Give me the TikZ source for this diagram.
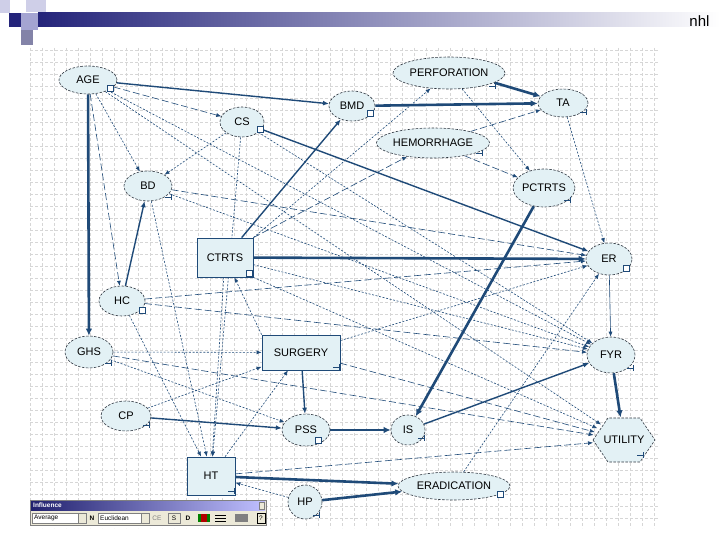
\documentclass[tikz,border=0pt]{standalone}
\usepackage{fontspec}
\setmainfont{Liberation Sans}
\usetikzlibrary{arrows.meta,shapes.geometric,backgrounds}

\definecolor{arcblue}{HTML}{1F4A78}
\definecolor{nodefill}{HTML}{E3F1F5}
\definecolor{nodeline}{HTML}{2E3640}
\definecolor{gridgray}{HTML}{D6D6D6}
\definecolor{headnavy}{HTML}{24247A}
\definecolor{sqlight}{HTML}{CFCFE8}
\definecolor{sqmid}{HTML}{A4A4D2}
\definecolor{barface}{HTML}{ECE9D8}

\tikzset{
  chance/.style={ellipse,draw=nodeline,line width=0.6pt,dash pattern=on 2.5pt off 1.5pt,
    fill=nodefill,inner sep=0pt,font=\fontsize{11}{13}\selectfont},
  decision/.style={rectangle,draw=arcblue,line width=0.8pt,fill=nodefill,inner sep=0pt,
    font=\fontsize{11}{13}\selectfont},
  utilshape/.style={ellipse,inner sep=0pt,minimum width=62pt,minimum height=45pt,
    font=\fontsize{11}{13}\selectfont},
  arc/.style={arcblue,-{Latex[length=5pt,width=4pt]}},
  strong/.style={arc,line width=2.6pt,-{Latex[length=7pt,width=6.5pt]}},
  medium/.style={arc,line width=1.4pt,-{Latex[length=6pt,width=5pt]}},
  weak/.style={arc,line width=0.6pt},
  longdash/.style={dash pattern=on 7pt off 3pt},
  shortdash/.style={dash pattern=on 2pt off 1.6pt},
  gridline/.style={gridgray,line width=0.5pt,dash pattern=on 3pt off 2pt},
  tool/.style={font=\fontsize{6.5}{7}\selectfont,inner sep=0pt},
}
% little status marks at the node corners
\newcommand{\chkbox}[1]{\draw[arcblue,line width=0.6pt,fill=white] (#1) ++(-3,-3) rectangle ++(6,6);}
\newcommand{\chktick}[1]{\draw[arcblue,line width=0.6pt] (#1) ++(-3,0) -- ++(6,0) ++(0,-3) -- ++(0,6);}

\begin{document}
\begin{tikzpicture}[x=1pt,y=-1pt]
  \useasboundingbox (0,0) rectangle (720,540);
  % slide header
  \shade[left color=headnavy,right color=white] (38,13) rectangle (720,27);
  \fill[sqlight] (0,0) rectangle (10,13);
  \fill[sqlight] (26,0) rectangle (46,12);
  \fill[headnavy] (9,13) rectangle (21,27);
  \fill[sqmid] (21,13) rectangle (38,30);
  \fill[sqmid!80!black] (21,30) rectangle (33,45);
  \node[font=\fontsize{15}{15}\selectfont,anchor=base east] (title) at (713,27) {nhl};

  % nodes
  \node[chance,minimum width=58pt,minimum height=28pt] (age) at (88,80) {AGE};
  \node[chance,minimum width=46pt,minimum height=30pt] (bmd) at (352,106) {BMD};
  \node[chance,minimum width=44pt,minimum height=30pt] (cs) at (242,122) {CS};
  \node[chance,minimum width=112pt,minimum height=32pt] (perforation) at (449,73) {PERFORATION};
  \node[chance,minimum width=50pt,minimum height=28pt] (ta) at (563,103) {TA};
  \node[chance,minimum width=112pt,minimum height=30pt] (hemorrhage) at (433,143) {HEMORRHAGE};
  \node[chance,minimum width=56pt,minimum height=38pt] (pctrts) at (544,188) {PCTRTS};
  \node[chance,minimum width=48pt,minimum height=30pt] (bd) at (148,186) {BD};
  \node[decision,minimum width=56pt,minimum height=39pt] (ctrts) at (225,257.5) {CTRTS};
  \node[chance,minimum width=46pt,minimum height=32pt] (er) at (609,259) {ER};
  \node[chance,minimum width=46pt,minimum height=30pt] (hc) at (122,301) {HC};
  \node[chance,minimum width=48pt,minimum height=32pt] (ghs) at (89,352) {GHS};
  \node[decision,minimum width=78pt,minimum height=35pt] (surgery) at (301,352.5) {SURGERY};
  \node[chance,minimum width=48pt,minimum height=36pt] (fyr) at (611,355) {FYR};
  \node[chance,minimum width=50pt,minimum height=30pt] (cp) at (126,416) {CP};
  \node[chance,minimum width=48pt,minimum height=32pt] (pss) at (306,430) {PSS};
  \node[chance,minimum width=34pt,minimum height=30pt] (is) at (408,430) {IS};
  \draw[nodeline,line width=0.6pt,dash pattern=on 2.5pt off 1.5pt,fill=nodefill]
    (593,440) -- (608,418) -- (640,418) -- (655,440) -- (640,462) -- (608,462) -- cycle;
  \node[utilshape] (utility) at (624,440) {UTILITY};
  \node[decision,minimum width=48pt,minimum height=38pt] (ht) at (211,476) {HT};
  \node[chance,minimum width=34pt,minimum height=34pt] (hp) at (305,502) {HP};
  \node[chance,minimum width=112pt,minimum height=28pt] (eradication) at (454,486) {ERADICATION};

  \chkbox{110,88} \chkbox{370,113} \chkbox{260,129} \chkbox{249,273}
  \chkbox{626,268} \chkbox{142,310} \chkbox{318,440} \chkbox{500,494}
  \chktick{492,86} \chktick{583,112} \chktick{479,153} \chktick{567,200}
  \chktick{630,368} \chktick{640,455} \chktick{421,438} \chktick{231,491}
  \chktick{146,425} \chktick{336,367} \chktick{108,363} \chktick{316,515}
  \chktick{168,197}

  \begin{scope}[on background layer]
    \fill[white] (0,0) rectangle (720,540);
    % grid
    \foreach \gx in {30,42,...,654} \draw[gridline] (\gx,48) -- (\gx,528);
    \foreach \gy in {50,62,...,518} \draw[gridline] (30,\gy) -- (658,\gy);
    % strong influences
    \draw[strong] (age) -- (ghs);
    \draw[strong] (bmd) -- (ta);
    \draw[strong] (perforation.-12) -- (ta);
    \draw[strong] (ctrts) -- (er);
    \draw[strong] (pctrts) -- (is);
    \draw[strong] (fyr) -- (utility);
    \draw[strong] (pss) -- (is);
    \draw[strong] (ht) -- (eradication);
    \draw[strong] (hp) -- (eradication);
    % medium influences
    \draw[medium] (age) -- (bmd);
    \draw[medium] (cs) -- (er);
    \draw[medium] (ctrts) -- (bmd);
    \draw[medium] (hc) -- (bd);
    \draw[medium] (is) -- (fyr);
    \draw[medium] (cp) -- (pss);
    \draw[medium] (surgery) -- (pss);
    % weak influences
    \draw[weak] (er) -- (fyr);
    \draw[weak,longdash] (age) -- (cs);
    \draw[weak,shortdash] (age) -- (bd);
    \draw[weak,longdash] (age) -- (hc);
    \draw[weak,shortdash] (age) -- (fyr);
    \draw[weak,shortdash] (age) -- (utility);
    \draw[weak,shortdash] (cs) -- (bd);
    \draw[weak,shortdash] (cs) -- (ht);
    \draw[weak,shortdash] (cs) -- (fyr);
    \draw[weak,shortdash] (perforation) -- (pctrts);
    \draw[weak,longdash] (hemorrhage) -- (pctrts);
    \draw[weak,longdash] (hemorrhage) -- (ta);
    \draw[weak,shortdash] (ta) -- (er);
    \draw[weak,shortdash] (ctrts.north east) -- (perforation);
    \draw[weak,longdash] (ctrts.north east) -- (hemorrhage);
    \draw[weak,shortdash] (ctrts) -- (fyr);
    \draw[weak,shortdash] (ctrts.south east) -- (utility);
    \draw[weak,shortdash] (ctrts) -- (ht);
    \draw[weak,longdash] (bd) -- (er);
    \draw[weak,shortdash] (bd) -- (fyr);
    \draw[weak,shortdash] (bd) -- (ht);
    \draw[weak,longdash] (hc) -- (er);
    \draw[weak,longdash] (hc) -- (fyr);
    \draw[weak,shortdash] (hc) -- (ht);
    \draw[weak,shortdash] (ghs) -- (surgery);
    \draw[weak,shortdash] (ghs) -- (pss);
    \draw[weak,longdash] (ghs) -- (utility);
    \draw[weak,shortdash] (cp) -- (surgery);
    \draw[weak,shortdash] (surgery) -- (er);
    \draw[weak,longdash] (surgery) -- (utility);
    \draw[weak,shortdash] (surgery.north west) -- (ctrts);
    \draw[weak,shortdash] (ht) -- (surgery);
    \draw[weak,longdash] (ht) -- (utility);
    \draw[weak,shortdash] (hp) -- (ht);
    \draw[weak,shortdash] (eradication) -- (er);
  \end{scope}

  % influence toolbar
  \draw[gray,fill=barface] (30,500) rectangle (266,525);
  \shade[left color=headnavy!90!black,right color=blue!25] (31,501) rectangle (265,510);
  \node[tool,white,font=\bfseries\fontsize{6.5}{7}\selectfont,anchor=west] (tbtitle) at (33,505.5) {Influence};
  \draw[gray,fill=barface] (259,502) rectangle (264,509);
  \draw[gray,fill=white] (32,513) rectangle (78,523);
  \node[tool,anchor=west] (tbavg) at (34,518) {Average};
  \draw[gray,fill=barface] (78,513) rectangle (86,523);
  \node[tool,font=\bfseries\fontsize{6.5}{7}\selectfont] (tbn) at (92,518) {N};
  \draw[gray,fill=white] (98,513) rectangle (141,523);
  \node[tool,anchor=west] (tbeuc) at (100,518) {Euclidean};
  \draw[gray,fill=barface] (141,513) rectangle (149,523);
  \node[tool,gray] (tbce) at (157,518) {CE};
  \draw[gray] (168,513) rectangle (180,523);
  \node[tool] (tbs) at (174,518) {S};
  \node[tool,font=\bfseries\fontsize{6.5}{7}\selectfont] (tbd) at (188,518) {D};
  \fill[green!50!black] (198,514) rectangle (210,522);
  \fill[red!70!black] (201,514) rectangle (207,522);
  \foreach \ly in {515,518,521} \draw[black,line width=1pt] (215,\ly) -- (226,\ly);
  \fill[gray] (235,514) rectangle (248,522);
  \draw[black] (257,513) rectangle (265,523);
  \node[tool] (tbhelp) at (261,518) {?};
\end{tikzpicture}
\end{document}
